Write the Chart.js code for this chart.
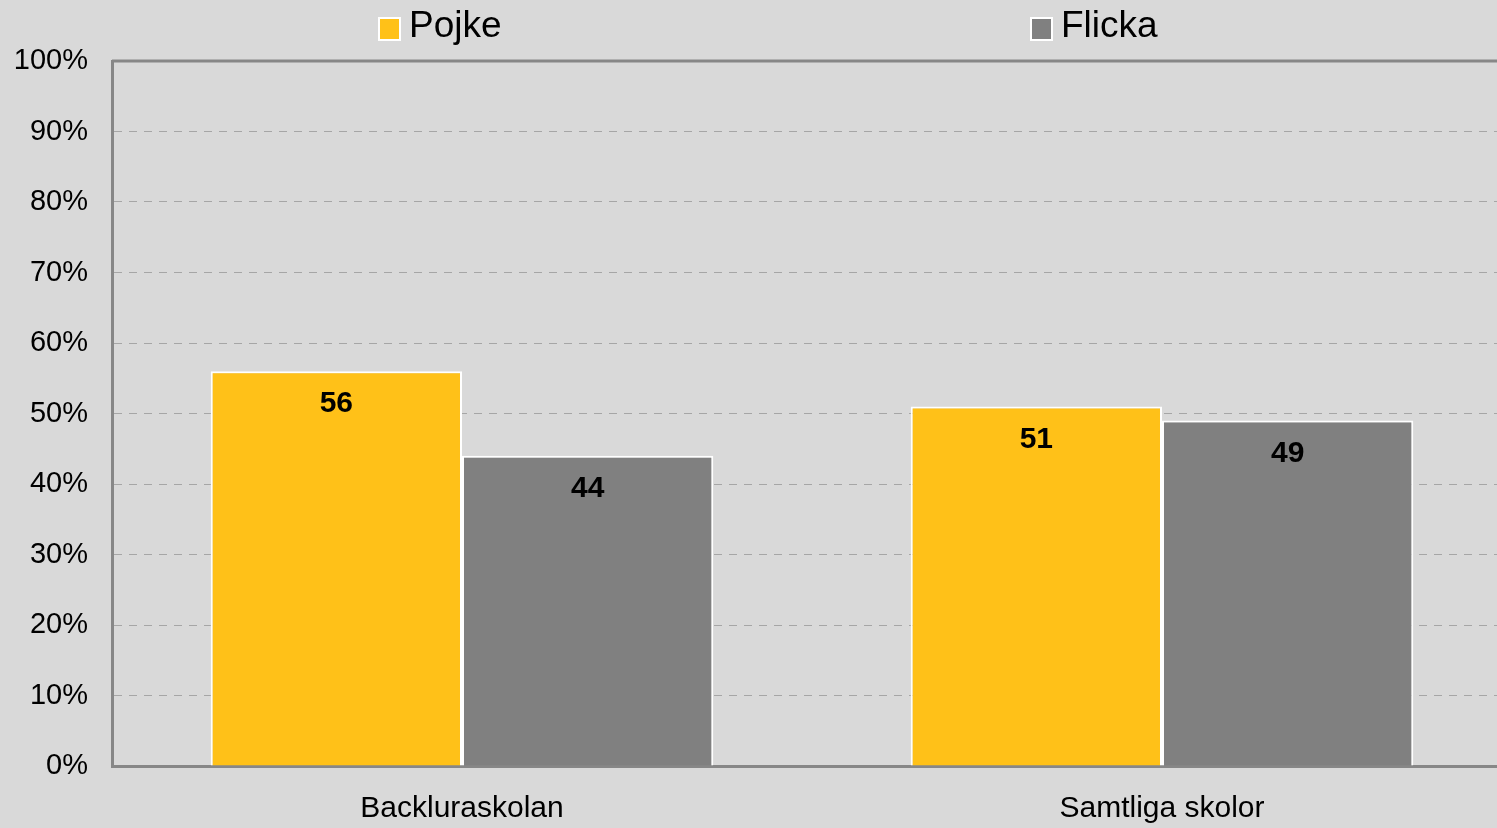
<!DOCTYPE html>
<html>
<head>
<meta charset="utf-8">
<script src="https://cdn.jsdelivr.net/npm/chart.js@4/dist/chart.umd.min.js"></script>
<style>
    html, body { margin: 0; padding: 0; background: #d9d9d9; overflow: hidden; }
    #wrap { width: 1497px; height: 828px; overflow: hidden; position: relative; }
    #box { width: 1512px; height: 828px; }
</style>
</head>
<body>
<div id="wrap"><div id="box"><canvas id="myChart"></canvas></div></div>
<script>
const categories = ['Backluraskolan', 'Samtliga skolor'];
const seriesNames = ['Pojke', 'Flicka'];
const pojkeValues = [56, 51];
const flickaValues = [44, 49];
const tickValues = [0, 10, 20, 30, 40, 50, 60, 70, 80, 90, 100];

const colors = ['#ffc118', '#808080'];
const fontFamily = '"Liberation Sans", Arial, sans-serif';

// values drawn inside the top of each bar
const valueLabels = {
    id: 'valueLabels',
    afterDatasetsDraw(chart) {
        const ctx = chart.ctx;
        ctx.save();
        ctx.fillStyle = '#000';
        ctx.font = 'bold 30px ' + fontFamily;
        ctx.textAlign = 'center';
        ctx.textBaseline = 'middle';
        chart.data.datasets.forEach((ds, i) => {
            chart.getDatasetMeta(i).data.forEach((bar, j) => {
                ctx.fillText(String(ds.data[j]), bar.x, bar.y + 33);
            });
        });
        ctx.restore();
    }
};

// top frame line + legend spread out like the original
const frameAndLegend = {
    id: 'frameAndLegend',
    afterDraw(chart) {
        const ctx = chart.ctx;
        const area = chart.chartArea;
        ctx.save();
        ctx.strokeStyle = '#878787';
        ctx.lineWidth = 3;
        ctx.beginPath();
        ctx.moveTo(area.left, area.top);
        ctx.lineTo(area.right, area.top);
        ctx.stroke();

        const legendX = [378, 1030];
        ctx.font = '37px ' + fontFamily;
        ctx.textBaseline = 'middle';
        ctx.textAlign = 'left';
        chart.data.datasets.forEach((ds, i) => {
            const x = legendX[i];
            ctx.fillStyle = '#ffffff';
            ctx.fillRect(x, 17, 23, 24);
            ctx.fillStyle = ds.backgroundColor;
            ctx.fillRect(x + 2, 19, 19, 20);
            ctx.fillStyle = '#000';
            ctx.fillText(ds.label, x + 31, 27);
        });
        ctx.restore();
    }
};

const chartData = {
    labels: categories,
    datasets: [
        {
            label: seriesNames[0],
            data: pojkeValues,
            backgroundColor: colors[0],
            borderColor: '#ffffff',
            borderWidth: 2,
            borderSkipped: 'bottom'
        },
        {
            label: seriesNames[1],
            data: flickaValues,
            backgroundColor: colors[1],
            borderColor: '#ffffff',
            borderWidth: 2,
            borderSkipped: 'bottom'
        }
    ]
};

new Chart(document.getElementById('myChart').getContext('2d'), {
    type: 'bar',
    data: chartData,
    plugins: [valueLabels, frameAndLegend],
    options: {
        responsive: true,
        maintainAspectRatio: false,
        animation: false,
        devicePixelRatio: 1,
        layout: { padding: { top: 61, left: 0, right: 0, bottom: 0 } },
        datasets: {
            bar: { categoryPercentage: 0.718, barPercentage: 1.0 }
        },
        plugins: {
            legend: { display: false },
            tooltip: { enabled: false }
        },
        scales: {
            x: {
                grid: { display: false, drawTicks: false },
                border: { display: true, color: '#878787', width: 3 },
                ticks: {
                    color: '#000',
                    font: { family: fontFamily, size: 30 },
                    padding: 25
                },
                afterFit(scale) { scale.height = 62; }
            },
            y: {
                min: 0,
                max: 100,
                afterBuildTicks(scale) {
                    scale.ticks = tickValues.map(v => ({ value: v }));
                },
                grid: {
                    drawTicks: false,
                    color: ctx => (ctx.tick && (ctx.tick.value === 0 || ctx.tick.value === 100)) ? 'rgba(0,0,0,0)' : '#a6a6a6',
                    lineWidth: 1
                },
                border: { display: true, color: '#878787', width: 3, dash: [8, 7] },
                ticks: {
                    color: '#000',
                    font: { family: fontFamily, size: 29 },
                    padding: 24,
                    callback: v => v + '%'
                },
                afterFit(scale) { scale.width = 112; }
            }
        }
    }
});
</script>
</body>
</html>
